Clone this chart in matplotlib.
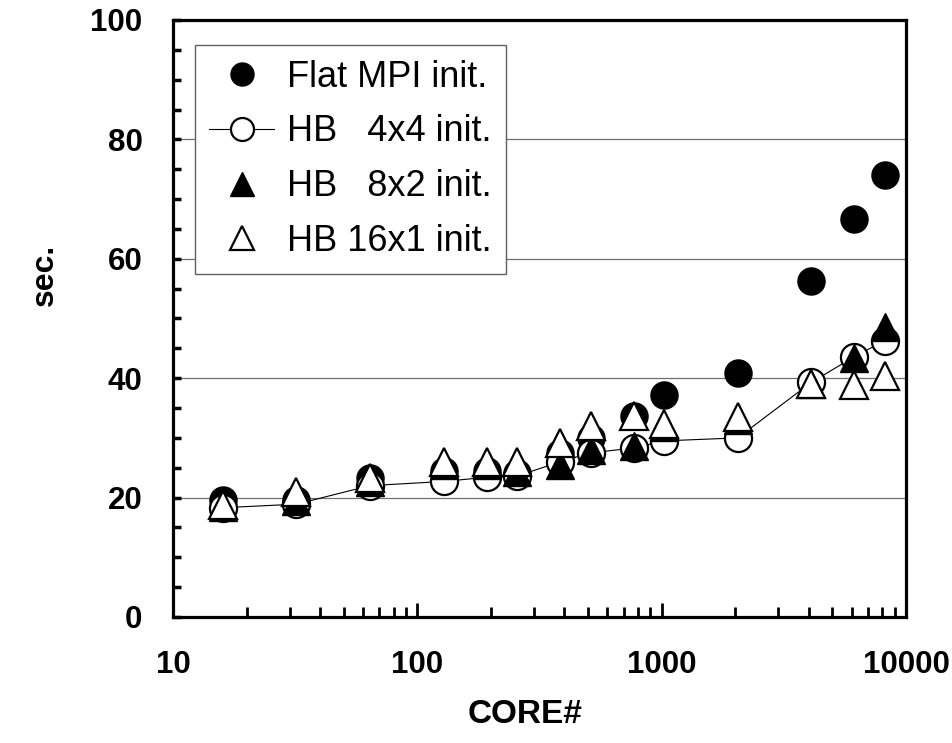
import matplotlib
matplotlib.use('Agg')
import matplotlib.pyplot as plt
from matplotlib import ticker

plt.rcParams['font.family'] = ['Liberation Sans', 'DejaVu Sans']

# Core counts (x) and init time in sec. for each run type
cores = [16, 32, 64, 128, 192, 256, 384, 512, 768, 1024, 2048, 4096, 6144, 8192]
flat_mpi = [19.6, 19.6, 23.3, 24.5, 24.5, 24.2, 27.5, 30.0, 33.6, 37.2, 40.9, 56.3, 66.7, 74.0]
hb_4x4 = [18.3, 18.9, 22.0, 22.7, 23.4, 23.6, 26.0, 27.5, 28.3, 29.5, 30.0, 39.3, 43.6, 46.3]
hb_8x2 = [18.5, 19.4, 22.6, 25.5, 25.5, 24.3, 25.5, 28.0, 28.7, 31.8, 33.0, 39.0, 43.4, 48.5]
hb_16x1 = [18.8, 20.9, 23.3, 26.0, 26.0, 26.0, 29.1, 32.0, 33.7, 32.3, 33.5, 39.1, 38.9, 40.4]

fig = plt.figure(figsize=(9.53, 7.43), dpi=100)
ax = fig.add_axes([0.1815, 0.1696, 0.7692, 0.8035])

ms = 19.5
ax.plot(cores, flat_mpi, 'o', ms=ms, color='k', mec='k',
        label='Flat MPI init.', zorder=3)
ax.plot(cores, hb_4x4, '-o', ms=ms, color='k', lw=0.8, mfc='white',
        mec='k', mew=1.6, label='HB   4x4 init.', zorder=4)
ax.plot(cores, hb_8x2, '^', ms=ms + 1, color='k', mec='k',
        label='HB   8x2 init.', zorder=5)
ax.plot(cores, hb_16x1, '^', ms=ms + 1, mfc='white', mec='k', mew=1.6,
        label='HB 16x1 init.', zorder=6)

ax.set_xscale('log')
ax.set_xlim(10, 10000)
ax.set_ylim(0, 100)
ax.xaxis.set_major_locator(ticker.FixedLocator([10, 100, 1000, 10000]))
ax.xaxis.set_major_formatter(ticker.FixedFormatter(['10', '100', '1000', '10000']))
ax.xaxis.set_minor_locator(ticker.LogLocator(base=10, subs=range(2, 10)))
ax.xaxis.set_minor_formatter(ticker.NullFormatter())
ax.yaxis.set_major_locator(ticker.MultipleLocator(20))
ax.yaxis.set_minor_locator(ticker.MultipleLocator(5))

# horizontal grid only, not on the frame
for v in [20, 40, 60, 80]:
    ax.axhline(v, color='#707070', lw=0.9, zorder=1)

for s in ax.spines.values():
    s.set_linewidth(2.3)

ax.tick_params(axis='x', which='major', direction='in', length=10, width=2,
               pad=24, labelsize=22.5)
ax.tick_params(axis='x', which='minor', direction='in', length=7, width=2)
ax.tick_params(axis='y', which='major', direction='in', length=6, width=2.5,
               pad=22, labelsize=22.5)
ax.tick_params(axis='y', which='minor', direction='in', length=6, width=2.5)
for lab in ax.get_xticklabels() + ax.get_yticklabels():
    lab.set_fontweight('bold')

ax.set_xlabel('CORE#', fontsize=24, fontweight='bold', va='center')
ax.xaxis.set_label_coords(0.48, -0.164)
ax.set_ylabel('sec.', fontsize=23, fontweight='bold', va='center')
ax.yaxis.set_label_coords(-0.175, 0.573)

leg = ax.legend(loc='upper left', bbox_to_anchor=(0.030, 0.958),
                borderaxespad=0, fontsize=26, markerscale=0.85,
                handlelength=1.8, handletextpad=0.35, labelspacing=0.55,
                borderpad=0.4, fancybox=False, framealpha=1,
                edgecolor='#606060')
leg.get_frame().set_linewidth(1.0)
leg.set_zorder(10)

fig.savefig('out.png', dpi=100)
